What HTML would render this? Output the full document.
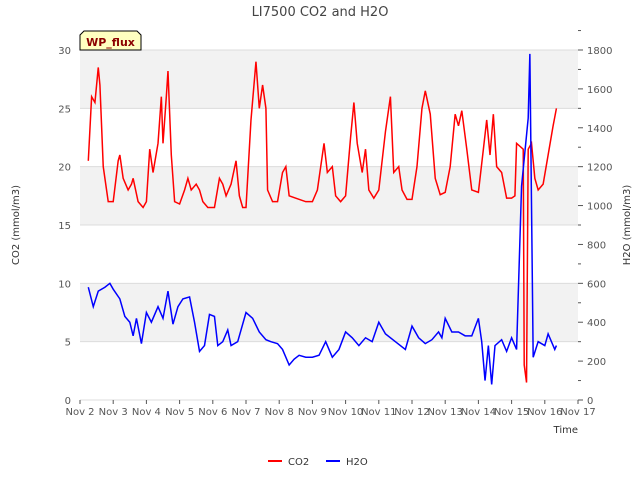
<!DOCTYPE html>
<html><head><meta charset="utf-8"><style>
body{margin:0;background:#fff;}
svg{font-family:"DejaVu Sans","Liberation Sans",sans-serif;}
</style></head><body>
<svg id="c" width="640" height="480" xmlns="http://www.w3.org/2000/svg">
<g id="bands"></g><g id="grid"></g><g id="axes"></g><g id="series"></g>
<text x="320" y="16" text-anchor="middle" font-size="13" fill="#444">LI7500 CO2 and H2O</text>
<g>
<path d="M80,50 L80,35 L84,31 L137,31 L141,35 L141,50 Z" fill="#ffffc0" stroke="#000" stroke-width="1"/>
<text x="110.5" y="46" text-anchor="middle" font-size="11" font-weight="bold" fill="#8b0000">WP_flux</text>
</g>
<text x="19" y="225" text-anchor="middle" font-size="10" fill="#333" transform="rotate(-90 19 225)">CO2 (mmol/m3)</text>
<text x="630" y="225" text-anchor="middle" font-size="10" fill="#333" transform="rotate(-90 630 225)">H2O (mmol/m3)</text>
<text x="578" y="433" text-anchor="end" font-size="10" fill="#333">Time</text>
<g>
<g><line x1="268" y1="461" x2="282" y2="461" stroke="#f00" stroke-width="2"/><text x="288" y="465" font-size="10" fill="#333">CO2</text></g>
<g><line x1="326" y1="461" x2="340" y2="461" stroke="#00f" stroke-width="2"/><text x="346" y="465" font-size="10" fill="#333">H2O</text></g>
</g>
</svg>
<script>
const xTicks=["Nov 2","Nov 3","Nov 4","Nov 5","Nov 6","Nov 7","Nov 8","Nov 9","Nov 10","Nov 11","Nov 12","Nov 13","Nov 14","Nov 15","Nov 16","Nov 17"];
const leftTicks=[0,5,10,15,20,25,30];
const rightTicks=[0,200,400,600,800,1000,1200,1400,1600,1800];
const co2T=[2.25,2.35,2.45,2.55,2.6,2.7,2.85,3.0,3.15,3.2,3.3,3.45,3.55,3.6,3.75,3.9,4.0,4.1,4.2,4.35,4.45,4.5,4.6,4.65,4.75,4.85,5.0,5.15,5.25,5.35,5.5,5.6,5.7,5.85,6.05,6.2,6.3,6.4,6.55,6.7,6.8,6.9,7.0,7.15,7.3,7.4,7.5,7.6,7.65,7.8,7.95,8.1,8.2,8.3,8.5,8.8,9.0,9.15,9.35,9.45,9.6,9.7,9.85,10.0,10.15,10.25,10.35,10.5,10.6,10.7,10.85,11.0,11.2,11.35,11.45,11.6,11.7,11.85,12.0,12.15,12.3,12.4,12.55,12.7,12.85,13.0,13.15,13.3,13.4,13.5,13.65,13.8,14.0,14.15,14.25,14.35,14.45,14.55,14.7,14.85,15.0,15.1,15.15,15.35,15.38,15.45,15.5,15.6,15.7,15.8,15.95,16.1,16.25,16.35];
const co2V=[20.5,26,25.5,28.5,27,20,17,17,20.5,21,19,18,18.5,19,17,16.5,17,21.5,19.5,22,26,22,26,28.2,21,17,16.8,18,19,18,18.5,18,17,16.5,16.5,19,18.5,17.5,18.5,20.5,17.5,16.5,16.5,24,29,25,27,25,18,17,17,19.5,20,17.5,17.3,17,17,18,22,19.5,20,17.5,17,17.5,22.5,25.5,22,19.5,21.5,18,17.3,18,23,26,19.5,20,18,17.2,17.2,20,25,26.5,24.5,19,17.6,17.8,20,24.5,23.5,24.8,21.5,18,17.8,21.5,24,21,24.5,20,19.5,17.3,17.3,17.5,22,21.5,3,1.5,21.5,22,19,18,18.5,21,23.5,25];
const h2oT=[2.25,2.4,2.55,2.75,2.9,3.0,3.2,3.35,3.5,3.6,3.7,3.85,4.0,4.15,4.35,4.5,4.65,4.8,4.95,5.1,5.3,5.45,5.6,5.75,5.9,6.05,6.15,6.3,6.45,6.55,6.75,7.0,7.2,7.4,7.6,7.75,7.95,8.1,8.3,8.45,8.6,8.8,9.0,9.2,9.4,9.6,9.8,10.0,10.2,10.4,10.6,10.8,11.0,11.2,11.5,11.8,12.0,12.2,12.4,12.6,12.8,12.9,13.0,13.2,13.4,13.6,13.8,14.0,14.1,14.2,14.3,14.4,14.5,14.7,14.85,15.0,15.15,15.3,15.5,15.55,15.65,15.8,16.0,16.1,16.3,16.35];
const h2oV=[580,480,560,580,600,570,520,430,400,330,420,290,450,400,480,420,560,390,480,520,530,400,250,280,440,430,280,300,360,280,300,450,420,350,310,300,290,260,180,210,230,220,220,230,300,220,260,350,320,280,320,300,400,340,300,260,380,320,290,310,350,320,420,350,350,330,330,420,300,100,280,80,280,310,250,320,260,1100,1450,1780,220,300,280,340,260,280];
const X0=80,X1=578,Y0=400,Y1=50;
const xs=d=>X0+(d-2)*(X1-X0)/15;
const yl=v=>Y0-v/30*(Y0-Y1);
const yr=v=>Y0-v/1800*(Y0-Y1);
const NS="http://www.w3.org/2000/svg";
function mk(p,tag,a){const e=document.createElementNS(NS,tag);for(const k in a)e.setAttribute(k,a[k]);document.getElementById(p).appendChild(e);return e;}
for(let i=0;i<leftTicks.length-1;i++){if(i%2==1){const b=mk('bands','rect',{x:X0,y:yl(leftTicks[i+1]),width:X1-X0,height:yl(leftTicks[i])-yl(leftTicks[i+1]),fill:'#f2f2f2'});

}}
leftTicks.forEach(v=>{const g=mk('grid','line',{x1:X0,x2:X1,y1:yl(v),y2:yl(v),stroke:'#dcdcdc'});


const t=mk('axes','text',{x:X0-9,y:yl(v)+4,'text-anchor':'end','font-size':10,fill:'#555'});t.textContent=v;

});
rightTicks.forEach(v=>{mk('axes','line',{x1:X1,x2:X1+5,y1:yr(v),y2:yr(v),stroke:'#555'});mk('axes','line',{x1:X1,x2:X1+3,y1:yr(v+100),y2:yr(v+100),stroke:'#555'});
const t=mk('axes','text',{x:X1+9,y:yr(v)+4,'font-size':10,fill:'#555'});t.textContent=v;

});
xTicks.forEach((s,i)=>{mk('axes','line',{x1:xs(2+i),x2:xs(2+i),y1:Y0,y2:Y0+4,stroke:'#555'});
const t=mk('axes','text',{x:xs(2+i),y:Y0+15,'text-anchor':'middle','font-size':10,fill:'#555'});t.textContent=s;

});
const co2=mk('series','polyline',{points:co2T.map((t,i)=>xs(t)+','+yl(co2V[i])).join(' '),fill:'none',stroke:'#f00','stroke-width':1.5});


const h2o=mk('series','polyline',{points:h2oT.map((t,i)=>xs(t)+','+yr(h2oV[i])).join(' '),fill:'none',stroke:'#00f','stroke-width':1.5});


</script>
</body></html>
